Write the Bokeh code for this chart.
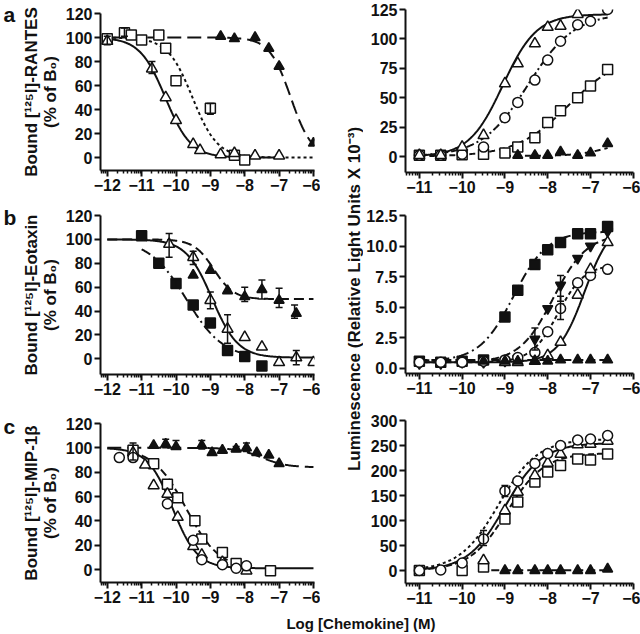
import numpy as np
from bokeh.plotting import figure
from bokeh.layouts import row, column
from bokeh.models import (Range1d, FixedTicker, ColumnDataSource, Whisker, TeeHead,
                          Label, PrintfTickFormatter)
from bokeh.embed import file_html
from bokeh.resources import INLINE

# ---------------- tick values ----------------
left_x_ticks = [-12, -11, -10, -9, -8, -7, -6]
right_x_ticks = [-11, -10, -9, -8, -7, -6]
left_y_ticks = [0, 20, 40, 60, 80, 100, 120]
a_right_y_ticks = [0, 25, 50, 75, 100, 125]
b_right_y_ticks = [0, 2.5, 5.0, 7.5, 10.0, 12.5]
c_right_y_ticks = [0, 50, 100, 150, 200, 250, 300]

# ---------------- panel a : binding (RANTES) ----------------
aL_tri_x = [-12, -10.7, -10.3, -10.0, -9.5, -9.3, -8.7, -8.3, -7.7, -7.0]
aL_tri_y = [97, 74, 50, 31, 11, 6, 2.5, 3.5, 1.5, 1.5]
aL_sq_x = [-12, -11.5, -11.3, -11.0, -10.5, -10.3, -10.0, -9.0, -8.3, -8.0]
aL_sq_y = [99, 104, 102, 98, 102, 91, 64, 41, 2, -2]
aL_ftri_x = [-8.7, -8.3, -7.7, -7.3, -7.0, -6.0]
aL_ftri_y = [101, 99, 100, 91, 76, 12]
aL_err_x = [-12, -11.5, -10.7, -9.0]
aL_err_lo = [94, 101, 70, 36]
aL_err_hi = [101, 108, 80, 45]
# fitted curves: top, bottom, logEC50, hill, from, to
aL_fit_tri = [100, 0, -10.31, -1.17, -12, -7]
aL_fit_sq = [100, 0, -9.52, -1.2, -12, -6]
aL_fit_ftri = [100, 0, -6.66, -1.4, -12, -5.97]

# ---------------- panel a : luminescence ----------------
aR_tri_x = [-11, -10.5, -10, -9.5, -9, -8.7, -8.3, -8, -7.7, -7.3]
aR_tri_y = [1, 1, 8, 18, 62, 79, 96, 110, 111, 121]
aR_circ_x = [-11, -10.5, -10, -9.5, -9, -8.7, -8.3, -8, -7.7, -7.3, -7, -6.6]
aR_circ_y = [1, 1, 2, 8, 33, 46, 65, 82, 98, 112, 115, 125]
aR_sq_x = [-11, -10.5, -10, -9.5, -9, -8.7, -8.3, -8, -7.7, -7.3, -7, -6.6]
aR_sq_y = [1, 1, 1.5, 2, 3, 8, 16, 29, 39, 50, 60, 74]
aR_ftri_x = [-8.7, -8.3, -8, -7.7, -7.3, -7, -6.6]
aR_ftri_y = [1, 1, 1, 4, 1, 3, 11]
aR_fit_tri = [121, 0, -9.05, 1.1, -11, -6.6]
aR_fit_circ = [122, 0, -8.46, 0.8, -11, -6.6]
aR_fit_sq = [88, 0, -7.5, 0.7, -11, -6.6]
aR_fit_ftri = [14, 0.5, -6.6, 1.2, -9, -6.6]

# ---------------- panel b : binding (Eotaxin) ----------------
bL_tri_x = [-10.2, -9.5, -9.0, -8.5, -8.0, -7.5, -7.0, -6.5, -6.0]
bL_tri_y = [96, 85, 49, 25, 18, 10, -3, 1, -3]
bL_fsq_x = [-11.0, -10.5, -10.0, -9.5, -9.0, -8.5, -8.0, -7.5]
bL_fsq_y = [103, 80, 63, 45, 30, 7, 2, -6]
bL_ftri_x = [-9.5, -9.0, -8.5, -8.0, -7.5, -7.0, -6.5]
bL_ftri_y = [70, 74, 57, 52, 58, 49, 38]
bL_err_x = [-10.2, -9.5, -9.0, -8.5, -6.5, -7.5, -7.0, -8.0, -6.55, -10.0]
bL_err_lo = [85, 79, 42, 13, -5, 50, 43, 48, 34, 59]
bL_err_hi = [105, 90, 56, 37, 7, 66, 59, 60, 45, 66]
bL_fit_tri = [100, 1, -8.95, -1.15, -12, -6]
bL_fit_fsq = [100, 0, -9.7, -0.8, -11, -8]
bL_fit_ftri = [100, 50, -8.9, -1.5, -12, -6]

# ---------------- panel b : luminescence ----------------
bR_fsq_x = [-11, -10.5, -10, -9.5, -9, -8.7, -8.3, -8, -7.7, -7.3, -7, -6.6]
bR_fsq_y = [0.6, 0.5, 0.6, 0.7, 4.2, 6.4, 8.5, 9.7, 10.3, 11.0, 11.0, 11.6]
bR_dtri_x = [-11, -10.5, -10, -9.5, -9, -8.7, -8.3, -8, -7.7, -7.3, -7, -6.6]
bR_dtri_y = [0.4, 0.4, 0.5, 0.5, 0.6, 0.8, 2.4, 4.9, 6.8, 9.0, 10.0, 11.2]
bR_circ_x = [-11, -10.5, -10, -9.5, -9, -8.7, -8.3, -8, -7.7, -7.3, -7, -6.6]
bR_circ_y = [0.5, 0.5, 0.5, 0.6, 0.7, 0.9, 1.3, 3.0, 4.9, 7.0, 7.6, 8.1]
bR_tri_x = [-9, -8.7, -8.3, -8, -7.7, -7.3, -7, -6.6]
bR_tri_y = [0.5, 0.5, 0.6, 1.06, 2.15, 6.0, 8.1, 10.3]
bR_ftri_x = [-9.5, -9, -8.7, -8.3, -8, -7.7, -7.3, -7, -6.6]
bR_ftri_y = [0.6, 0.6, 0.6, 0.6, 0.6, 0.7, 0.7, 0.7, 0.7]
bR_err_x = [-8.3, -7.7, -7.7]
bR_err_lo = [1.5, 4.0, 5.5]
bR_err_hi = [3.3, 5.9, 7.6]
bR_fit_fsq = [11.2, 0.6, -8.8, 1.1, -11, -6.6]
bR_fit_dtri = [11.0, 0.5, -7.87, 1.1, -11, -6.6]
bR_fit_circ = [8.5, 0.5, -7.76, 1.4, -11, -6.6]
bR_fit_tri = [12.0, 0.5, -7.14, 1.4, -11, -6.6]
bR_fit_ftri = [0.7, 0.7, -8.0, 1.0, -11, -6.6]

# ---------------- panel c : binding (MIP-1beta) ----------------
cL_ftri_x = [-10.65, -10.3, -10.0, -9.25, -8.95, -8.65, -8.25, -7.95, -7.65, -7.3, -7.0]
cL_ftri_y = [102, 103, 101, 102, 96, 98, 99, 100, 96, 94, 87]
cL_circ_x = [-11.65, -11.25, -10.25, -9.5, -9.25, -8.65, -8.25, -7.95]
cL_circ_y = [92, 92, 54, 24, 8, 4, 1, 3]
cL_tri_x = [-11.25, -10.9, -10.65, -10.25, -9.95, -9.5, -9.25, -8.65, -7.95]
cL_tri_y = [96, 86, 69, 62, 43, 19, 12, 6, -1]
cL_sq_x = [-11.25, -10.65, -10.25, -9.95, -9.45, -9.25, -8.65, -8.25, -7.25]
cL_sq_y = [98, 87, 70, 59, 40, 25, 14, 5, -1]
cL_err_x = [-11.25, -10.3, -10.0, -9.25, -8.25, -7.95]
cL_err_lo = [90, 100, 99, 99, 97, 97]
cL_err_hi = [104, 107, 106, 106, 101, 104]
cL_fit_tri = [100, 1, -10.1, -1.2, -12, -6]
cL_fit_sq = [100, 0, -9.7, -0.9, -11, -8.5]
cL_fit_ftri = [100, 84, -7.5, -1.2, -12, -6]

# ---------------- panel c : luminescence ----------------
cR_circ_x = [-11, -10.5, -10, -9.5, -9, -8.7, -8.3, -8, -7.7, -7.3, -7, -6.6]
cR_circ_y = [0, 1, 15, 63, 159, 179, 214, 234, 250, 261, 263, 270]
cR_tri_x = [-9.5, -9, -8.7, -8.3, -8, -7.7, -7.3, -7, -6.6]
cR_tri_y = [20, 120, 157, 190, 215, 233, 252, 253, 259]
cR_sq_x = [-11, -10, -9.5, -9, -8.7, -8.3, -8, -7.7, -7.3, -7, -6.6]
cR_sq_y = [0, 0, 7, 103, 137, 177, 197, 210, 223, 221, 233]
cR_ftri_x = [-9, -8.7, -8.3, -8, -7.7, -7.3, -7, -6.6]
cR_ftri_y = [0, 0, 0, 0, 0, 0, 0, 3]
cR_err_x = [-9.5, -9.0]
cR_err_lo = [50, 148]
cR_err_hi = [80, 170]
cR_fit_circ = [263, 0, -9.15, 0.95, -11, -6.6]
cR_fit_tri = [255, 0, -9.0, 1.0, -11, -6.6]
cR_fit_sq = [235, 0, -8.95, 1.0, -11, -6.6]
cR_fit_ftri = [0.5, 0.5, -8.0, 1.0, -9.6, -6.6]

panel_letters = ["a", "b", "c"]

# ---------------- styling ----------------
FONT = "Liberation Sans"
INK = "#111111"
TICK_SIZE = "16px"
LABEL_SIZE = "17px"


def minor_ticks(lo, hi):
    out = []
    for n in range(-14, -4):
        for k in range(2, 10):
            v = n + np.log10(k)
            if lo <= v <= hi:
                out.append(float(v))
    return out


def make_panel(side, w, h, mb, yr, yticks, ylabel=None, yfmt=None):
    if side == "L":
        xr = (-12.197, -5.97)
        xt = left_x_ticks
    else:
        xr = (-11.324, -5.995)
        xt = right_x_ticks
    p = figure(width=w, height=h, x_range=Range1d(*xr), y_range=Range1d(*yr),
               output_backend="svg", toolbar_location=None, title=None,
               min_border_left=mb[0], min_border_right=mb[1],
               min_border_top=mb[2], min_border_bottom=mb[3])
    p.outline_line_color = None
    p.xgrid.visible = False
    p.ygrid.visible = False
    p.border_fill_color = "white"
    p.background_fill_color = "white"
    for ax in (p.xaxis[0], p.yaxis[0]):
        ax.axis_line_width = 2
        ax.axis_line_color = INK
        ax.major_tick_line_width = 2
        ax.major_tick_line_color = INK
        ax.major_tick_in = 0
        ax.major_tick_out = 6
        ax.major_label_text_font = FONT
        ax.major_label_text_font_style = "bold"
        ax.major_label_text_font_size = TICK_SIZE
        ax.major_label_text_color = INK
        ax.major_label_standoff = 2
    p.xaxis[0].ticker = FixedTicker(ticks=xt, minor_ticks=minor_ticks(*xr))
    p.xaxis[0].minor_tick_in = 0
    p.xaxis[0].minor_tick_out = 3
    p.xaxis[0].minor_tick_line_width = 1.5
    p.xaxis[0].minor_tick_line_color = INK
    p.yaxis[0].ticker = FixedTicker(ticks=yticks, minor_ticks=[])
    p.yaxis[0].minor_tick_line_color = None
    if yfmt:
        p.yaxis[0].formatter = PrintfTickFormatter(format=yfmt)
    if ylabel:
        p.yaxis[0].axis_label = ylabel
        p.yaxis[0].axis_label_text_font = FONT
        p.yaxis[0].axis_label_text_font_style = "bold"
        p.yaxis[0].axis_label_text_font_size = LABEL_SIZE
        p.yaxis[0].axis_label_text_color = INK
        p.yaxis[0].axis_label_text_line_height = 1.0
        p.yaxis[0].axis_label_standoff = 3
    return p


def sig(x, top, bottom, c, hill):
    return bottom + (top - bottom) / (1 + 10 ** ((c - x) * hill))


def curve(p, fit, dash):
    top, bottom, c, hill, x0, x1 = fit
    xs = np.linspace(x0, x1, 200)
    p.line(xs, sig(xs, top, bottom, c, hill), line_color=INK, line_width=2,
           line_dash=dash)


def pts(p, x, y, marker, filled, size):
    p.scatter(x, y, marker=marker, size=size,
              fill_color=INK if filled else "white",
              line_color=INK, line_width=1.5)


def errs(p, x, lo, hi):
    src = ColumnDataSource(dict(x=x, lo=lo, hi=hi))
    p.add_layout(Whisker(source=src, base="x", lower="lo", upper="hi",
                         line_color=INK, line_width=1.5, level="glyph",
                         upper_head=TeeHead(size=7, line_color=INK, line_width=1.5),
                         lower_head=TeeHead(size=7, line_color=INK, line_width=1.5)))


# ---------------- panels ----------------
aL = make_panel("L", 302, 200, (75, 6, 13, 30), (-10.8, 120), left_y_ticks,
                ylabel="Bound [\u00b9\u00b2\u2075I]-RANTES\n(% of B\u2080)")
curve(aL, aL_fit_tri, "solid")
curve(aL, aL_fit_sq, "3 3")
curve(aL, aL_fit_ftri, "14 6")
errs(aL, aL_err_x, aL_err_lo, aL_err_hi)
pts(aL, aL_sq_x, aL_sq_y, "square", False, 10)
pts(aL, aL_tri_x, aL_tri_y, "triangle", False, 11)
pts(aL, aL_ftri_x, aL_ftri_y, "triangle", True, 10)

bL = make_panel("L", 302, 208, (75, 6, 15, 34), (-13.1, 120), left_y_ticks,
                ylabel="Bound [\u00b9\u00b2\u2075I]-Eotaxin\n(% of B\u2080)")
curve(bL, bL_fit_tri, "solid")
curve(bL, bL_fit_fsq, "10 4 2 4")
curve(bL, bL_fit_ftri, "10 5")
errs(bL, bL_err_x, bL_err_lo, bL_err_hi)
pts(bL, bL_tri_x, bL_tri_y, "triangle", False, 11)
pts(bL, bL_fsq_x, bL_fsq_y, "square", True, 10)
pts(bL, bL_ftri_x, bL_ftri_y, "triangle", True, 10)

cL = make_panel("L", 302, 204, (75, 6, 15, 30), (-10.68, 120), left_y_ticks,
                ylabel="Bound [\u00b9\u00b2\u2075I]-MIP-1\u03b2\n(% of B\u2080)")
curve(cL, cL_fit_tri, "solid")
curve(cL, cL_fit_sq, "8 4")
curve(cL, cL_fit_ftri, "14 6")
errs(cL, cL_err_x, cL_err_lo, cL_err_hi)
pts(cL, cL_sq_x, cL_sq_y, "square", False, 10)
pts(cL, cL_tri_x, cL_tri_y, "triangle", False, 11)
pts(cL, cL_circ_x, cL_circ_y, "circle", False, 10)
pts(cL, cL_ftri_x, cL_ftri_y, "triangle", True, 10)

aR = make_panel("R", 277, 200, (40, 7, 9, 28), (-13.6, 125), a_right_y_ticks)
curve(aR, aR_fit_sq, "6 4")
curve(aR, aR_fit_ftri, "6 4")
curve(aR, aR_fit_circ, "8 3 2 3")
curve(aR, aR_fit_tri, "solid")
pts(aR, aR_sq_x, aR_sq_y, "square", False, 10)
pts(aR, aR_ftri_x, aR_ftri_y, "triangle", True, 10)
pts(aR, aR_circ_x, aR_circ_y, "circle", False, 10)
pts(aR, aR_tri_x, aR_tri_y, "triangle", False, 11)

bR = make_panel("R", 277, 208, (40, 7, 15, 35), (-0.41, 12.5), b_right_y_ticks,
                yfmt="%.1f")
curve(bR, bR_fit_ftri, "8 4")
curve(bR, bR_fit_fsq, "10 4 2 4")
curve(bR, bR_fit_dtri, "8 4")
curve(bR, bR_fit_circ, "4 3")
curve(bR, bR_fit_tri, "solid")
errs(bR, bR_err_x, bR_err_lo, bR_err_hi)
pts(bR, bR_fsq_x, bR_fsq_y, "square", True, 10)
pts(bR, bR_dtri_x, bR_dtri_y, "inverted_triangle", True, 10)
pts(bR, bR_circ_x, bR_circ_y, "circle", False, 10)
pts(bR, bR_tri_x, bR_tri_y, "triangle", False, 11)
pts(bR, bR_ftri_x, bR_ftri_y, "triangle", True, 10)

cR = make_panel("R", 277, 204, (40, 7, 12, 29), (-26, 300), c_right_y_ticks)
curve(cR, cR_fit_ftri, "8 4")
curve(cR, cR_fit_sq, "6 3")
curve(cR, cR_fit_circ, "3 3")
curve(cR, cR_fit_tri, "solid")
errs(cR, cR_err_x, cR_err_lo, cR_err_hi)
pts(cR, cR_sq_x, cR_sq_y, "square", False, 10)
pts(cR, cR_tri_x, cR_tri_y, "triangle", False, 11)
pts(cR, cR_circ_x, cR_circ_y, "circle", False, 10)
pts(cR, cR_ftri_x, cR_ftri_y, "triangle", True, 10)


def blank(w, h):
    p = figure(width=w, height=h, output_backend="svg", toolbar_location=None,
               title=None, x_axis_type=None, y_axis_type=None, min_border=0)
    p.outline_line_color = None
    p.xgrid.visible = False
    p.ygrid.visible = False
    return p


def text_label(p, x, y, text, size, angle=0, align="center", baseline="middle"):
    p.add_layout(Label(x=x, y=y, x_units="screen", y_units="screen", text=text,
                       angle=angle, angle_units="deg", text_align=align,
                       text_baseline=baseline, text_font=FONT,
                       text_font_style="bold", text_font_size=size,
                       text_color=INK))


# panel letters strip
letters = blank(18, 612)
for txt, yb in zip(panel_letters, [598, 395, 186]):
    text_label(letters, 3, yb, txt, "21px", align="left", baseline="alphabetic")

# shared y label of the right column
mid = blank(43, 612)
text_label(mid, 33.5, 313.5, "Luminescence (Relative Light Units X 10\u207b\u00b3)",
           LABEL_SIZE, angle=90)

# shared x label
bottom = blank(640, 22)
text_label(bottom, 360.5, 11, "Log [Chemokine] (M)", "15px", baseline="middle")

layout = column(row(letters, column(aL, bL, cL), mid, column(aR, bR, cR)), bottom)

open("out.html", "w").write(file_html(layout, INLINE))
